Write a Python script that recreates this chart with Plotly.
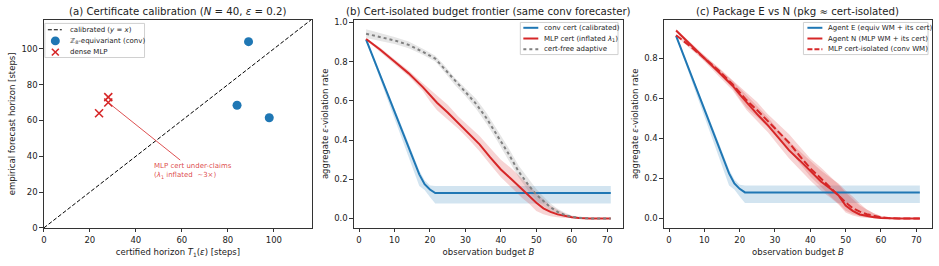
import plotly.graph_objects as go

# ---------------- data ----------------
# (a) certificate calibration
diag_xy = [0, 120]
conv_T = [84, 89, 98]
conv_emp = [68.5, 104, 61.5]
mlp_T = [24, 28, 28]
mlp_emp = [64, 73, 70]
annot_point = [28, 70]
annot_text_pos = [65, 32]

# (b)/(c) conv cert (calibrated) == Agent E
conv_B = [2, 5, 8, 11, 14, 17, 18.5, 20, 21.5, 71]
conv_rate = [0.912, 0.775, 0.637, 0.499, 0.361, 0.225, 0.175, 0.148, 0.13, 0.13]
conv_lo = [0.905, 0.758, 0.608, 0.458, 0.31, 0.165, 0.145, 0.11, 0.077, 0.077]
conv_hi = [0.918, 0.787, 0.652, 0.517, 0.382, 0.245, 0.195, 0.168, 0.165, 0.165]

# MLP cert (inflated lambda_1) == MLP cert-isolated (conv WM)
mlp_B = [2, 6, 10, 14, 18, 20, 22, 25, 28, 31, 34, 37, 40, 43, 46, 48, 50, 52, 54, 56, 58, 60, 62, 65, 71]
mlp_rate = [0.915, 0.86, 0.80, 0.74, 0.67, 0.628, 0.59, 0.54, 0.487, 0.433, 0.378, 0.312, 0.25, 0.2,
            0.15, 0.115, 0.08, 0.052, 0.034, 0.021, 0.012, 0.006, 0.002, 0.0, 0.0]
mlp_lo = [0.91, 0.85, 0.788, 0.725, 0.65, 0.598, 0.552, 0.505, 0.457, 0.403, 0.343, 0.275, 0.21, 0.158,
          0.105, 0.075, 0.038, 0.022, 0.012, 0.006, 0.003, 0.001, 0.0, 0.0, 0.0]
mlp_hi = [0.92, 0.87, 0.812, 0.755, 0.69, 0.658, 0.628, 0.58, 0.52, 0.468, 0.42, 0.36, 0.3, 0.255,
          0.205, 0.17, 0.13, 0.095, 0.065, 0.045, 0.026, 0.013, 0.005, 0.0, 0.0]

# cert-free adaptive
free_B = [2, 6, 10, 14, 18, 21.5, 24, 27, 30, 33, 36, 39, 42, 45, 48, 50, 52, 54, 56, 58, 60, 63, 66, 71]
free_rate = [0.942, 0.925, 0.908, 0.885, 0.85, 0.815, 0.765, 0.70, 0.645, 0.585, 0.51, 0.425, 0.335, 0.24,
             0.165, 0.122, 0.087, 0.057, 0.034, 0.018, 0.008, 0.002, 0.0, 0.0]
free_lo = [0.92, 0.905, 0.89, 0.868, 0.835, 0.80, 0.748, 0.682, 0.625, 0.56, 0.482, 0.395, 0.305, 0.21,
           0.135, 0.093, 0.063, 0.038, 0.02, 0.009, 0.003, 0.0, 0.0, 0.0]
free_hi = [0.965, 0.945, 0.926, 0.902, 0.866, 0.83, 0.782, 0.718, 0.665, 0.61, 0.538, 0.455, 0.365, 0.27,
           0.195, 0.15, 0.112, 0.077, 0.05, 0.03, 0.015, 0.005, 0.0, 0.0]

# Agent N (MLP WM + its cert)
aN_B = [2, 6, 10, 14, 18, 20, 22, 25, 28, 31, 34, 37, 40, 43, 46, 48, 50, 52, 54, 56, 58, 60, 62, 65, 71]
aN_rate = [0.939, 0.87, 0.80, 0.73, 0.663, 0.62, 0.578, 0.52, 0.465, 0.40, 0.34, 0.29, 0.235, 0.185,
           0.145, 0.115, 0.065, 0.038, 0.02, 0.012, 0.006, 0.003, 0.001, 0.0, 0.0]
aN_lo = [0.932, 0.86, 0.785, 0.712, 0.64, 0.59, 0.54, 0.485, 0.43, 0.365, 0.30, 0.245, 0.19, 0.14,
         0.1, 0.07, 0.03, 0.015, 0.006, 0.002, 0.0, 0.0, 0.0, 0.0, 0.0]
aN_hi = [0.946, 0.88, 0.815, 0.75, 0.688, 0.65, 0.615, 0.56, 0.505, 0.44, 0.385, 0.335, 0.285, 0.24,
         0.2, 0.175, 0.14, 0.11, 0.075, 0.045, 0.025, 0.012, 0.005, 0.0, 0.0]

# ---------------- styling ----------------
FONT = "DejaVu Sans"
BLUE = "#1f77b4"
RED = "#d62728"
GREY = "#808080"
W, H = 939, 266


def px_x(p):
    return p / W


def px_y(p):
    return (H - p) / H


fig = go.Figure()


def band(B, lo, hi, color, xa, ya):
    fig.add_trace(go.Scatter(
        x=list(B) + list(B)[::-1], y=list(hi) + list(lo)[::-1],
        fill="toself", fillcolor=color, line=dict(width=0), mode="lines",
        hoverinfo="skip", showlegend=False, xaxis=xa, yaxis=ya))


# ---- (a) ----
fig.add_trace(go.Scatter(x=diag_xy, y=diag_xy, mode="lines", name="calibrated (y = x)",
                         line=dict(color="black", width=1, dash="4px,2px"), xaxis="x", yaxis="y"))
fig.add_trace(go.Scatter(x=conv_T, y=conv_emp, mode="markers", name="Z8-equivariant (conv)",
                         marker=dict(color=BLUE, size=9, symbol="circle"), xaxis="x", yaxis="y"))
fig.add_trace(go.Scatter(x=mlp_T, y=mlp_emp, mode="markers", name="dense MLP",
                         marker=dict(color=RED, size=8, symbol="x-thin", line=dict(color=RED, width=1.6)),
                         xaxis="x", yaxis="y"))

# ---- (b) ----
band(conv_B, conv_lo, conv_hi, "rgba(31,119,180,0.2)", "x2", "y2")
band(mlp_B, mlp_lo, mlp_hi, "rgba(214,39,40,0.2)", "x2", "y2")
band(free_B, free_lo, free_hi, "rgba(128,128,128,0.2)", "x2", "y2")
fig.add_trace(go.Scatter(x=conv_B, y=conv_rate, mode="lines", name="conv cert (calibrated)",
                         line=dict(color=BLUE, width=2), xaxis="x2", yaxis="y2"))
fig.add_trace(go.Scatter(x=mlp_B, y=mlp_rate, mode="lines", name="MLP cert (inflated λ1)",
                         line=dict(color=RED, width=2), xaxis="x2", yaxis="y2"))
fig.add_trace(go.Scatter(x=free_B, y=free_rate, mode="lines", name="cert-free adaptive",
                         line=dict(color=GREY, width=2, dash="dot"), xaxis="x2", yaxis="y2"))

# ---- (c) ----
band(conv_B, conv_lo, conv_hi, "rgba(31,119,180,0.2)", "x3", "y3")
band(aN_B, aN_lo, aN_hi, "rgba(214,39,40,0.2)", "x3", "y3")
band(mlp_B, mlp_lo, mlp_hi, "rgba(214,39,40,0.2)", "x3", "y3")
fig.add_trace(go.Scatter(x=conv_B, y=conv_rate, mode="lines", name="Agent E (equiv WM + its cert)",
                         line=dict(color=BLUE, width=2), xaxis="x3", yaxis="y3"))
fig.add_trace(go.Scatter(x=aN_B, y=aN_rate, mode="lines", name="Agent N (MLP WM + its cert)",
                         line=dict(color=RED, width=2), xaxis="x3", yaxis="y3"))
fig.add_trace(go.Scatter(x=mlp_B, y=mlp_rate, mode="lines", name="MLP cert-isolated (conv WM)",
                         line=dict(color=RED, width=2, dash="7px,3px"), xaxis="x3", yaxis="y3"))

axis_common = dict(showline=True, mirror=True, linecolor="#333", linewidth=1, ticks="outside",
                   ticklen=3.5, tickcolor="#333", tickwidth=1, showgrid=False, zeroline=False,
                   tickfont=dict(family=FONT, size=8.5, color="#222"),
                   title_font=dict(family=FONT, size=8.5, color="#222"))

ydom = [px_y(232), px_y(18.3)]
fig.update_layout(
    width=W, height=H, margin=dict(l=0, r=0, t=0, b=0),
    paper_bgcolor="white", plot_bgcolor="white", showlegend=False,
    font=dict(family=FONT, size=8.5, color="#222"),
    xaxis=dict(domain=[px_x(41), px_x(310)], range=[0, 116.6], dtick=20,
               title=dict(text="certified horizon <i>T</i><sub>1</sub>(<i>ε</i>) [steps]", standoff=5), **axis_common),
    yaxis=dict(domain=ydom, range=[0, 116.2], dtick=20,
               title=dict(text="empirical forecast horizon [steps]", standoff=4), **axis_common),
    xaxis2=dict(domain=[px_x(352), px_x(622)], range=[-1.45, 74.45], dtick=10, anchor="y2",
                title=dict(text="observation budget <i>B</i>", standoff=5), **axis_common),
    yaxis2=dict(domain=ydom, range=[-0.048, 1.013], dtick=0.2, tickformat=".1f", anchor="x2",
                title=dict(text="aggregate <i>ε</i>-violation rate", standoff=4), **axis_common),
    xaxis3=dict(domain=[px_x(663), px_x(932)], range=[-1.45, 74.45], dtick=10, anchor="y3",
                title=dict(text="observation budget <i>B</i>", standoff=5), **axis_common),
    yaxis3=dict(domain=ydom, range=[-0.047, 0.992], dtick=0.2, tickformat=".1f", anchor="x3",
                title=dict(text="aggregate <i>ε</i>-violation rate", standoff=4), **axis_common),
)

titles = [
    ("(a) Certificate calibration (<i>N</i> = 40, <i>ε</i> = 0.2)", (41 + 310) / 2),
    ("(b) Cert-isolated budget frontier (same conv forecaster)", (352 + 622) / 2),
    ("(c) Package E vs N (pkg ≈ cert-isolated)", (663 + 932) / 2),
]
for txt, cx in titles:
    fig.add_annotation(text=txt, x=px_x(cx), y=px_y(10), xref="paper", yref="paper",
                       xanchor="center", yanchor="middle", showarrow=False,
                       font=dict(family=FONT, size=10.2, color="#222"))

fig.add_annotation(text="MLP cert under-claims<br>(<i>λ</i><sub>1</sub> inflated  ∼3×)",
                   x=annot_point[0], y=annot_point[1], xref="x", yref="y",
                   ax=annot_text_pos[0], ay=annot_text_pos[1], axref="x", ayref="y",
                   showarrow=True, arrowhead=0, arrowwidth=1, arrowcolor="rgba(214,39,40,0.8)",
                   align="left", font=dict(family=FONT, size=7, color="rgba(214,39,40,0.85)"))


# ---------------- compact legends (matplotlib-like) ----------------
def legend_box(x0, x1, y0, y1):
    fig.add_shape(type="rect", xref="paper", yref="paper",
                  x0=px_x(x0), x1=px_x(x1), y0=px_y(y1), y1=px_y(y0),
                  line=dict(color="#d0d0d0", width=1), fillcolor="rgba(255,255,255,0.85)", layer="above")


def legend_text(x, y, txt):
    fig.add_annotation(text=txt, x=px_x(x), y=px_y(y), xref="paper", yref="paper",
                       xanchor="left", yanchor="middle", showarrow=False,
                       font=dict(family=FONT, size=7, color="#222"))


def legend_seg(x0, y0, x1, y1, color, dash="solid", width=2):
    fig.add_shape(type="line", xref="paper", yref="paper",
                  x0=px_x(x0), x1=px_x(x1), y0=px_y(y0), y1=px_y(y1),
                  line=dict(color=color, width=width, dash=dash), layer="above")


# legend (a)
legend_box(42, 142, 22, 57)
legend_seg(45, 28.5, 59, 28.5, "black", "4px,2px", 1)
legend_text(65, 28.5, "calibrated (<i>y</i> = <i>x</i>)")
fig.add_shape(type="circle", xref="paper", yref="paper",
              x0=px_x(48), x1=px_x(57), y0=px_y(44.5), y1=px_y(35.5),
              line=dict(color=BLUE, width=0), fillcolor=BLUE, layer="above")
legend_text(65, 40, "ℤ<sub>8</sub>-equivariant (conv)")
legend_seg(49, 48, 56, 55, RED, "solid", 1.6)
legend_seg(49, 55, 56, 48, RED, "solid", 1.6)
legend_text(65, 51.5, "dense MLP")

# legend (b)
legend_box(519, 617, 21, 54)
legend_seg(522, 26.5, 537, 26.5, BLUE)
legend_text(541, 26.5, "conv cert (calibrated)")
legend_seg(522, 37.5, 537, 37.5, RED)
legend_text(541, 37.5, "MLP cert (inflated <i>λ</i><sub>1</sub>)")
legend_seg(522, 48.5, 537, 48.5, GREY, "dot")
legend_text(541, 48.5, "cert-free adaptive")

# legend (c)
legend_box(803, 928, 21, 54)
legend_seg(807, 26.5, 822, 26.5, BLUE)
legend_text(826, 26.5, "Agent E (equiv WM + its cert)")
legend_seg(807, 37.5, 822, 37.5, RED)
legend_text(826, 37.5, "Agent N (MLP WM + its cert)")
legend_seg(807, 48.5, 822, 48.5, RED, "5px,2px")
legend_text(826, 48.5, "MLP cert-isolated (conv WM)")

fig.write_html("out.html")
